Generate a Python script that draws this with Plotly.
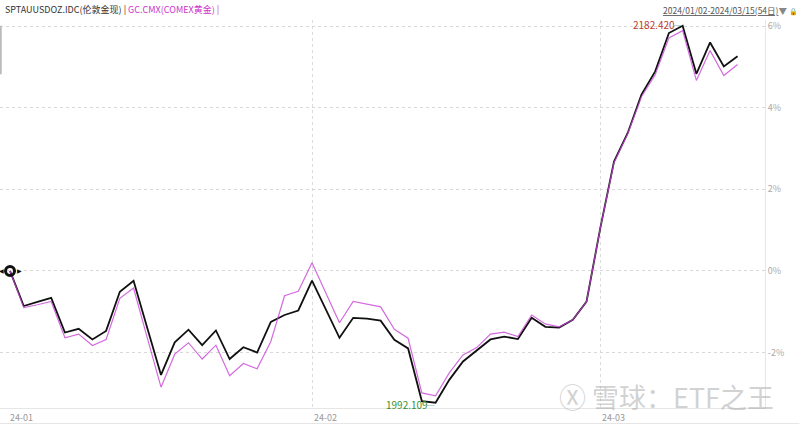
import plotly.graph_objects as go

# trading days 2024-01-02 .. 2024-03-15 (54 days), index based x
month_ticks = [0, 22, 43]
month_labels = ["24-01", "24-02", "24-03"]

# % change vs first day
spot_pct = [0.00, -0.86, -0.76, -0.66, -1.51, -1.42, -1.68, -1.47, -0.51, -0.24,
            -1.40, -2.55, -1.75, -1.44, -1.82, -1.46, -2.16, -1.87, -2.00, -1.25,
            -1.08, -0.97, -0.24, -0.93, -1.64, -1.15, -1.17, -1.22, -1.69, -1.90,
            -3.19, -3.23, -2.67, -2.22, -1.96, -1.68, -1.61, -1.67, -1.15, -1.37,
            -1.39, -1.20, -0.75, 1.05, 2.68, 3.38, 4.32, 4.89, 5.83, 6.01,
            4.83, 5.60, 5.01, 5.26]
comex_pct = [0.00, -0.90, -0.83, -0.75, -1.64, -1.55, -1.83, -1.68, -0.67, -0.42,
             -1.64, -2.85, -2.04, -1.76, -2.16, -1.82, -2.57, -2.27, -2.40, -1.73,
             -0.61, -0.50, 0.20, -0.53, -1.27, -0.75, -0.81, -0.88, -1.43, -1.65,
             -2.99, -3.06, -2.50, -2.06, -1.88, -1.55, -1.50, -1.61, -1.08, -1.30,
             -1.37, -1.20, -0.75, 1.05, 2.65, 3.36, 4.27, 4.81, 5.71, 5.89,
             4.67, 5.40, 4.79, 5.06]
y_ticks = [-2, 0, 2, 4, 6]
hi_label, lo_label = "2182.420", "1992.109"

x = list(range(len(spot_pct)))
CJK = "Noto Sans CJK SC, Noto Sans, sans-serif"

fig = go.Figure()
fig.add_trace(go.Scatter(x=x, y=spot_pct, mode="lines", name="SPTAUUSDOZ.IDC",
                         line=dict(color="#111111", width=1.8)))
fig.add_trace(go.Scatter(x=x, y=comex_pct, mode="lines", name="GC.CMX",
                         line=dict(color="rgba(200,70,215,0.8)", width=1.2)))
# start marker
fig.add_trace(go.Scatter(x=[x[0]], y=[spot_pct[0]], mode="markers",
                         marker=dict(symbol="circle-open", size=9, color="#111",
                                     line=dict(width=3, color="#111"))))

hi_i = spot_pct.index(max(spot_pct))
lo_i = spot_pct.index(min(spot_pct))

ann = []
for xi, yv, txt, col in [(hi_i, spot_pct[hi_i], hi_label, "#c0392b"),
                         (lo_i, spot_pct[lo_i], lo_label, "#3c8f2e")]:
    ys = 1 if xi == hi_i else -2
    ann.append(dict(x=xi, y=yv, xref="x", yref="y", text=txt, showarrow=False,
                    xanchor="right", yanchor="middle", xshift=-6, yshift=ys,
                    font=dict(size=10, color=col, family=CJK)))
    ann.append(dict(x=xi, y=yv, xref="x", yref="y", text="—", showarrow=False,
                    xanchor="right", yanchor="middle", xshift=1, yshift=ys,
                    font=dict(size=9, color="#7fb8c8")))
for s, sh in [("◀", -9), ("▶", 9)]:
    ann.append(dict(x=x[0], y=spot_pct[0], xref="x", yref="y", text=s, showarrow=False,
                    xshift=sh, font=dict(size=6, color="#111")))
for t, lab in zip(month_ticks, month_labels):
    ann.append(dict(x=t, y=0, xref="x", yref="paper", text=lab, showarrow=False,
                    xanchor="left", yanchor="top", yshift=-1, xshift=-2 if t == 0 else 0,
                    font=dict(size=9, color="#999", family=CJK)))
ann.append(dict(x=0.004, y=1.0, xref="paper", yref="paper", yanchor="bottom", xanchor="left",
                showarrow=False, yshift=2,
                text="<span style='color:#333'>SPTAUUSDOZ.IDC(伦敦金现) | </span>"
                     "<span style='color:#cc33cc'>GC.CMX(COMEX黄金) |</span>",
                font=dict(size=9, family=CJK)))
ann.append(dict(x=1.031, y=1.0, xref="paper", yref="paper", yanchor="bottom", xanchor="right",
                showarrow=False, yshift=2,
                text="<u>2024/01/02-2024/03/15(54日)</u><span style='color:#888'>▼</span>",
                font=dict(size=8.5, color="#555", family=CJK)))
ann.append(dict(x=1.046, y=1.0, xref="paper", yref="paper", yanchor="bottom", xanchor="right",
                showarrow=False, yshift=2, text="🔒", font=dict(size=7, color="#f0a020")))
ann.append(dict(x=1.014, y=0.0, xref="paper", yref="paper", xanchor="right", yanchor="bottom",
                showarrow=False, yshift=-10, text="Ⓧ 雪球：ETF之王",
                font=dict(size=27, color="rgba(165,165,165,0.5)", family=CJK)))

fig.update_layout(
    width=800, height=426,
    paper_bgcolor="white", plot_bgcolor="white",
    margin=dict(l=0, r=35, t=20, b=18),
    showlegend=False,
    annotations=ann,
    xaxis=dict(range=[-0.73, 55.0], tickvals=month_ticks[1:], showticklabels=False,
               showgrid=True, gridcolor="#dcdcdc", griddash="dot", gridwidth=1,
               zeroline=False, showline=True, linecolor="#e6e6e6", ticks="",
               automargin=False),
    yaxis=dict(range=[-3.36, 6.15], side="right", tickvals=y_ticks,
               ticktext=[f"{v}%" for v in y_ticks],
               showgrid=True, gridcolor="#d8d8d8", griddash="dot", gridwidth=1,
               zeroline=False, showline=True, linecolor="#e6e6e6", ticks="",
               automargin=False,
               tickfont=dict(size=9, color="#aaa", family=CJK)),
    shapes=[dict(type="line", xref="paper", yref="paper", x0=0, x1=1.045, y0=-0.04, y1=-0.04,
                 line=dict(color="#e6e6e6", width=1)),
            dict(type="line", xref="paper", yref="paper", x0=0.001, x1=0.001, y0=0.86, y1=0.985,
                 line=dict(color="#bbbbbb", width=2))],
)

fig.write_html("out.html", config={"displayModeBar": False},
               post_script="document.body.style.margin='0';")
